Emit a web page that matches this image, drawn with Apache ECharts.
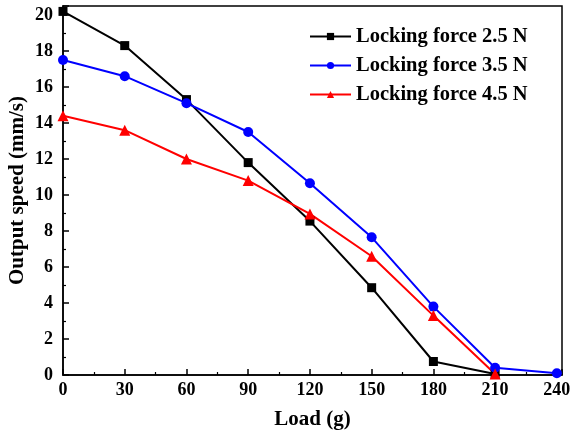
<!DOCTYPE html>
<html>
<head>
<meta charset="utf-8">
<script src="https://cdn.jsdelivr.net/npm/echarts@6/dist/echarts.min.js"></script>
<style>html,body{margin:0;padding:0;background:#fff}#c{width:572px;height:438px}</style>
</head>
<body>
<div id="c"></div>
<script>
const loads = [0, 30, 60, 90, 120, 150, 180, 210, 240];
const seriesNames = ['Locking force 2.5 N', 'Locking force 3.5 N', 'Locking force 4.5 N'];
const speed25 = [20.2, 18.3, 15.3, 11.8, 8.55, 4.85, 0.75, 0.05];
const speed35 = [17.5, 16.6, 15.1, 13.5, 10.65, 7.65, 3.8, 0.4, 0.1];
const speed45 = [14.4, 13.6, 12.0, 10.8, 8.95, 6.6, 3.3, 0.05];

const FONT = '"Liberation Serif", "Times New Roman", serif';
function pairs(vals) { return vals.map((v, i) => [loads[i], v]); }

const chart = echarts.init(document.getElementById('c'), null, {renderer: 'canvas'});
chart.setOption({
  animation: false,
  backgroundColor: '#fff',
  grid: {left: 63, right: 10, top: 6, bottom: 63, show: true, borderColor: '#000', borderWidth: 1.5,
         backgroundColor: 'transparent', containLabel: false, outerBoundsMode: 'none'},
  legend: {
    orient: 'vertical', left: 304, top: 21, itemWidth: 41, itemHeight: 9, itemGap: 8,
    textStyle: {fontFamily: FONT, fontWeight: 'bold', fontSize: 20.5, color: '#000'},
    data: seriesNames
  },
  xAxis: {
    type: 'value', min: 0, max: 242.5, interval: 30,
    name: 'Load (g)', nameLocation: 'middle', nameGap: 34, nameMoveOverlap: false,
    nameTextStyle: {fontFamily: FONT, fontWeight: 'bold', fontSize: 21, color: '#000'},
    axisLine: {show: true, lineStyle: {color: '#000', width: 1.5}},
    axisTick: {show: true, inside: true, length: 6, lineStyle: {color: '#000', width: 1.5}},
    minorTick: {show: true, splitNumber: 2, length: 3, lineStyle: {color: '#000', width: 1.2}},
    axisLabel: {show: true, showMaxLabel: false, margin: 6, fontFamily: FONT, fontWeight: 'bold', fontSize: 18, color: '#000'},
    splitLine: {show: false}
  },
  yAxis: {
    type: 'value', min: 0, max: 20.5, interval: 2,
    name: 'Output speed (mm/s)', nameLocation: 'middle', nameGap: 35, nameMoveOverlap: false,
    nameTextStyle: {fontFamily: FONT, fontWeight: 'bold', fontSize: 21, color: '#000'},
    axisLine: {show: true, lineStyle: {color: '#000', width: 1.5}},
    axisTick: {show: true, inside: true, length: 6, lineStyle: {color: '#000', width: 1.5}},
    minorTick: {show: true, splitNumber: 2, length: 3, lineStyle: {color: '#000', width: 1.2}},
    axisLabel: {show: true, showMaxLabel: false, margin: 10, fontFamily: FONT, fontWeight: 'bold', fontSize: 18, color: '#000'},
    splitLine: {show: false}
  },
  series: [
    {name: seriesNames[0], type: 'line', data: pairs(speed25), symbol: 'rect', symbolSize: 9,
     itemStyle: {color: '#000'}, lineStyle: {color: '#000', width: 2}},
    {name: seriesNames[1], type: 'line', data: pairs(speed35), symbol: 'circle', symbolSize: 10,
     itemStyle: {color: '#0000ff'}, lineStyle: {color: '#0000ff', width: 2}},
    {name: seriesNames[2], type: 'line', data: pairs(speed45), symbol: 'triangle', symbolSize: 11,
     itemStyle: {color: '#ff0000'}, lineStyle: {color: '#ff0000', width: 2}}
  ]
});
</script>
</body>
</html>
